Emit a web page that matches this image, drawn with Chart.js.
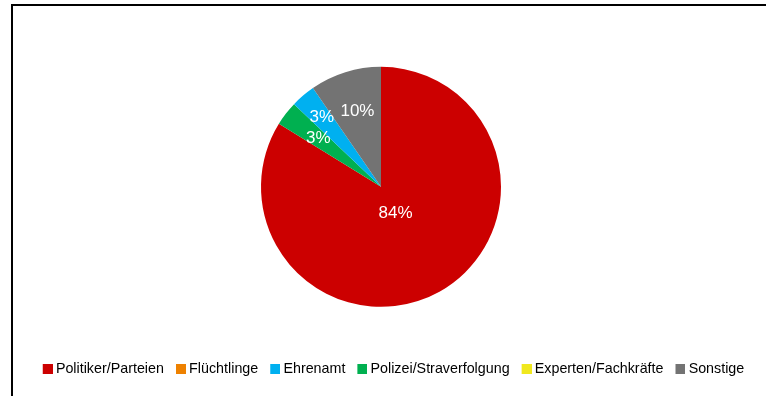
<!DOCTYPE html>
<html lang="de">
<head>
<meta charset="utf-8">
<title>Akteure</title>
<script src="https://cdn.jsdelivr.net/npm/chart.js@4"></script>
<style>
    html, body{
        margin:0;
        padding:0;
        background:#ffffff;
    }

    #wrap{
        position:relative;
        width:766px;
        height:396px;
    }

    #frame{
        position:absolute;
        left:11px;
        top:4px;
        right:0;
        bottom:0;
        border-left:2px solid #000000;
        border-top:2px solid #000000;
        pointer-events:none;
    }
</style>
</head>
<body>

<div id="wrap">
    <canvas id="pieChart"></canvas>
    <div id="frame"></div>
</div>

<script>

/*
=================================
DATA
=================================
*/

const categories = [
    "Politiker/Parteien",
    "Flüchtlinge",
    "Ehrenamt",
    "Polizei/Straverfolgung",
    "Experten/Fachkräfte",
    "Sonstige"
];

// share in percent
const shares = [83.8, 0, 3.3, 3.3, 0, 9.6];

const sliceColors = [
    "#cc0000",
    "#ee8100",
    "#00b0f0",
    "#00b050",
    "#f0e81e",
    "#737373"
];

// order in which the slices run clockwise from the top
const sliceOrder = [0, 1, 3, 2, 4, 5];

/*
=================================
SETTINGS
=================================
*/

const FONT_FAMILY =
    "'Liberation Sans', Arial, sans-serif";

const PIE_RADIUS = 120;
const PIE_SHIFT_X = -12.5;

/*
=================================
LEGEND SWATCH
small square sitting close to its text
=================================
*/

function makeSwatch(color){

    const c = document.createElement("canvas");

    c.width = 14;
    c.height = 10;

    const g = c.getContext("2d");

    g.fillStyle = color;
    g.fillRect(4, 0, 10, 10);

    return c;
}

function legendLabels(chart){

    const items =
        Chart.overrides.pie.plugins.legend.labels
        .generateLabels(chart);

    items.forEach(item => {

        item.pointStyle =
            makeSwatch(item.fillStyle);
    });

    return items;
}

/*
=================================
SLICE LABELS + PIE OFFSET
=================================
*/

const sliceLabelPlugin = {

    id:"sliceLabels",

    beforeDatasetsDraw(chart){

        chart.ctx.save();
        chart.ctx.translate(PIE_SHIFT_X, 0);
    },

    afterDatasetsDraw(chart){

        const ctx = chart.ctx;
        const meta = chart.getDatasetMeta(0);
        const values = chart.data.datasets[0].data;

        const total =
            values.reduce((a, b) => a + b, 0);

        ctx.font = "17px " + FONT_FAMILY;
        ctx.fillStyle = "#ffffff";
        ctx.textAlign = "center";
        ctx.textBaseline = "middle";

        const placed = [];

        meta.data.forEach((arc, i) => {

            const value = values[i];

            if(!value) return;

            const p =
                arc.getProps(
                    ["x", "y", "startAngle", "endAngle", "outerRadius"],
                    true
                );

            const share = value / total;
            const text = Math.round(share * 100) + "%";
            const mid = (p.startAngle + p.endAngle) / 2;

            const w = ctx.measureText(text).width;
            const h = 20;

            let dist =
                p.outerRadius *
                (share > 0.5 ? 0.25 : 0.66);

            let cx, cy;

            for(let k = 0; k < 40; k++){

                cx = p.x + Math.cos(mid) * dist;
                cy = p.y + Math.sin(mid) * dist;

                const hit = placed.some(b =>
                    Math.abs(b.x - cx) < (b.w + w) / 2 &&
                    Math.abs(b.y - cy) < (b.h + h) / 2
                );

                if(!hit) break;

                dist += 2;
            }

            placed.push({x:cx, y:cy, w:w, h:h});

            ctx.fillText(text, cx, cy);
        });

        ctx.restore();
    }
};

/*
=================================
PIE CHART
=================================
*/

const canvas =
    document.getElementById("pieChart");

new Chart(canvas, {

    type:"pie",

    data:{

        labels:
            sliceOrder.map(i => categories[i]),

        datasets:[{

            data:
                sliceOrder.map(i => shares[i]),

            backgroundColor:
                sliceOrder.map(i => sliceColors[i]),

            borderWidth:0,

            radius:PIE_RADIUS
        }]
    },

    options:{

        responsive:true,
        maintainAspectRatio:false,
        animation:false,
        events:[],

        layout:{
            padding:{
                left:21,
                right:0,
                top:24,
                bottom:10
            }
        },

        plugins:{

            legend:{

                position:"bottom",

                labels:{

                    usePointStyle:true,
                    pointStyleWidth:6,
                    boxHeight:10,
                    padding:12,
                    color:"#000000",

                    font:{
                        family:FONT_FAMILY,
                        size:14.3
                    },

                    generateLabels:legendLabels,

                    sort:(a, b) =>
                        sliceOrder[a.index] -
                        sliceOrder[b.index]
                }
            },

            tooltip:{
                enabled:false
            }
        }
    },

    plugins:[sliceLabelPlugin]
});

</script>
</body>
</html>
